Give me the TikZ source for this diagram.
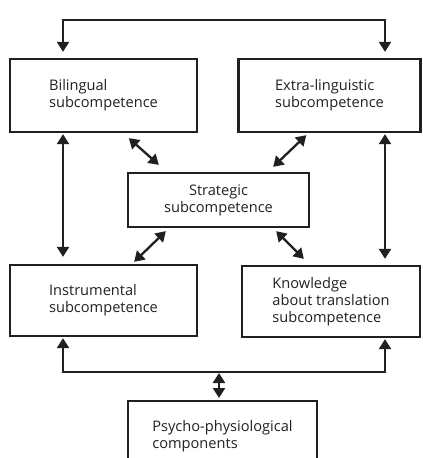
\documentclass[tikz,border=0pt]{standalone}
\usepackage{fontspec}
\setmainfont{Open Sans}
\usetikzlibrary{arrows.meta,calc}
\definecolor{ink}{HTML}{231F20}
\tikzset{
  box/.style={draw=ink, line width=2.3pt, align=left, text=ink, inner sep=0pt,
    font=\fontsize{14.6}{17}\selectfont},
  arr/.style={draw=ink, line width=2.3pt, {Triangle[width=12pt,length=10pt]}-{Triangle[width=12pt,length=10pt]}},
}
\begin{document}
\begin{tikzpicture}[x=1pt,y=-1pt]
\useasboundingbox (0,0) rectangle (423,458);
\clip (0,0) rectangle (423,458);
\node[box, minimum width=187pt, minimum height=73pt] (bil) at (103.5,95.5) {Bilingual\\subcompetence};
\node[box, minimum width=182pt, minimum height=73pt] (ext) at (329.5,95.5) {Extra-linguistic\\subcompetence};
\node[box, minimum width=181pt, minimum height=54pt, align=center] (str) at (218.5,200) {Strategic\\subcompetence};
\node[box, minimum width=187pt, minimum height=71pt] (ins) at (103.5,300.5) {Instrumental\\subcompetence};
\node[box, minimum width=178pt, minimum height=71pt] (kno) at (331,301.5) {Knowledge\\about translation\\subcompetence};
\node[box, minimum width=189pt, minimum height=70pt, anchor=north] (psy) at (222.5,400) {Psycho-physiological\\components};
% top connector
\coordinate (tl) at (63,20);
\coordinate (tr) at (385,20);
\draw[arr, shorten <=6pt, shorten >=6pt] (bil.north -| tl) -- (tl) -- (tr) -- (ext.north -| tr);
% verticals
\draw[arr, shorten <=1pt, shorten >=7pt] (bil.south -| tl) -- (ins.north -| tl);
\draw[arr, shorten <=1pt, shorten >=6pt] (ext.south -| tr) -- (kno.north -| tr);
% diagonals
\draw[arr] ($(bil.south west)+(120,5)$) -- ($(str.north west)+(32,-7)$);
\draw[arr] ($(ext.south west)+(69,2)$) -- ($(str.north east)+(-37,-5)$);
\draw[arr] ($(str.south west)+(39,3)$) -- ($(ins.north east)+(-64,-2)$);
\draw[arr] ($(str.south east)+(-34,3)$) -- ($(kno.north west)+(63,-6)$);
% bottom connector
\coordinate (bl) at (63,372);
\coordinate (br) at (385,372);
\draw[arr, shorten <=1pt, shorten >=1pt] (ins.south -| bl) -- (bl) -- (br) -- (kno.south -| br);
\coordinate (mid) at (219,373);
\draw[arr, shorten >=2pt] (mid) -- (psy.north -| mid);
\end{tikzpicture}
\end{document}
